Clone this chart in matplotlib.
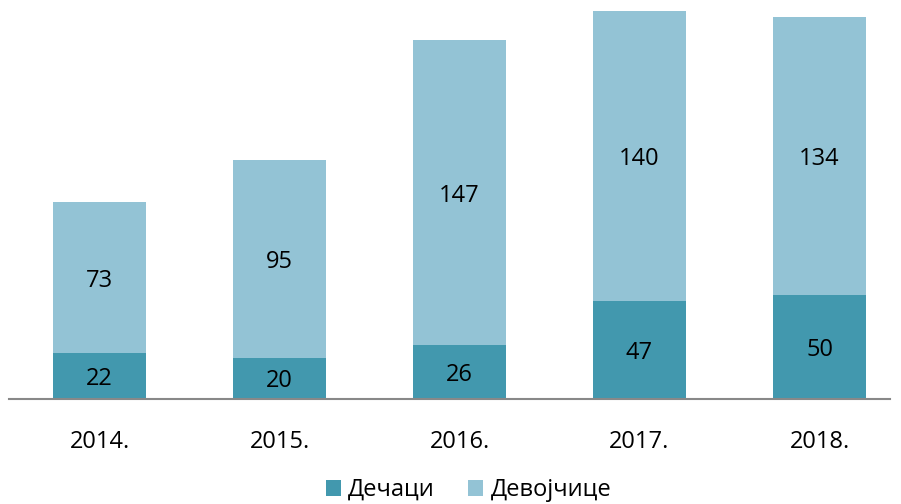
import matplotlib
matplotlib.use("Agg")
import matplotlib.pyplot as plt
import numpy as np

years = ["2014.", "2015.", "2016.", "2017.", "2018."]
boys = [22, 20, 26, 47, 50]
girls = [73, 95, 147, 140, 134]
labels = ["Дечаци", "Девојчице"]

c_boys = "#4298AE"
c_girls = "#93C3D5"

plt.rcParams['font.family'] = ['Open Sans', 'DejaVu Sans']

W, H = 901, 504
fig = plt.figure(figsize=(W/100, H/100), dpi=100)
ax_left, ax_right = 9, 890
ax_top, ax_bottom = 0, 399
ax = fig.add_axes([ax_left/W, 1-ax_bottom/H, (ax_right-ax_left)/W, (ax_bottom-ax_top)/H])

x = np.arange(len(years))
width = 0.517
b1 = ax.bar(x, boys, width, color=c_boys, label=labels[0])
b2 = ax.bar(x, girls, width, bottom=boys, color=c_girls, label=labels[1])

for xi, b, g in zip(x, boys, girls):
    ax.text(xi, b/2, str(b), ha='center', va='center_baseline', fontsize=17, color='black')
    ax.text(xi, b + g/2, str(g), ha='center', va='center_baseline', fontsize=17, color='black')

px_per_unit = 2.075
ax.set_ylim(0, (ax_bottom-ax_top)/px_per_unit)
ax.set_xlim((ax_left-99.5)/180, (ax_right-99.5)/180)

for s in ['top', 'right', 'left']:
    ax.spines[s].set_visible(False)
ax.spines['bottom'].set_color('#888888')
ax.spines['bottom'].set_linewidth(1.5)
ax.set_yticks([])
ax.set_xticks(x)
ax.set_xticklabels(years, fontsize=17)
ax.tick_params(axis='x', length=0, pad=22)

fig.legend(handles=[b1, b2], labels=labels, loc='center', bbox_to_anchor=(0.52, 1-490/H),
           ncol=2, frameon=False, fontsize=17, handlelength=0.65, handleheight=0.65,
           handletextpad=0.3, columnspacing=1.4)

fig.savefig("out.png", dpi=100)
